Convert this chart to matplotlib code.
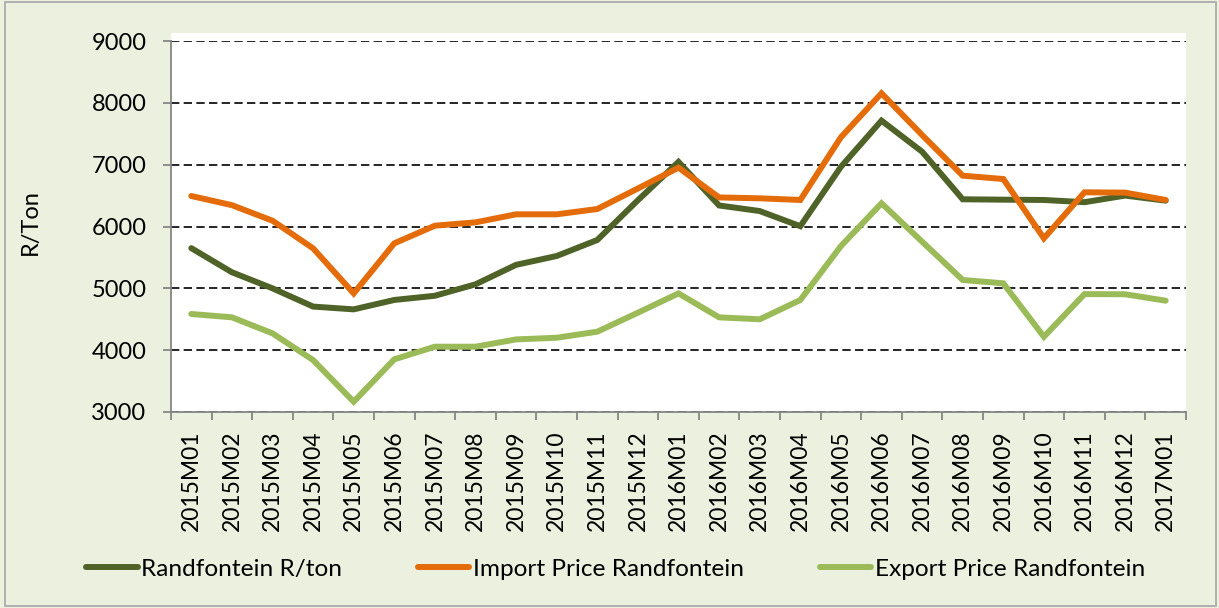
import matplotlib
matplotlib.use("Agg")
import matplotlib.pyplot as plt
from matplotlib.patches import Rectangle
from matplotlib.ticker import FixedLocator

categories = ["2015M01", "2015M02", "2015M03", "2015M04", "2015M05", "2015M06",
              "2015M07", "2015M08", "2015M09", "2015M10", "2015M11", "2015M12",
              "2016M01", "2016M02", "2016M03", "2016M04", "2016M05", "2016M06",
              "2016M07", "2016M08", "2016M09", "2016M10", "2016M11", "2016M12",
              "2017M01"]

randfontein = [5650, 5260, 5000, 4705, 4660, 4812, 4880, 5065, 5380, 5523,
               5782, 6425, 7045, 6340, 6250, 6005, 6965, 7712, 7210, 6440,
               6434, 6429, 6393, 6500, 6418]
import_price = [6493, 6345, 6094, 5647, 4918, 5728, 6013, 6067, 6197, 6197,
                6283, 6615, 6952, 6470, 6456, 6429, 7443, 8154, 7480, 6822,
                6768, 5809, 6553, 6548, 6429]
export_price = [4585, 4531, 4272, 3840, 3166, 3852, 4056, 4056, 4174, 4201,
                4299, 4606, 4918, 4531, 4499, 4811, 5683, 6375, 5755, 5135,
                5081, 4217, 4907, 4904, 4800]

series_names = ["Randfontein R/ton", "Import Price Randfontein", "Export Price Randfontein"]
series_colors = ["#4F6228", "#E46C0A", "#9BBB59"]
y_ticks = [3000, 4000, 5000, 6000, 7000, 8000, 9000]

W, H = 1219, 608
FONT = "Lato"
FS = 17
LFS = 17.6

fig = plt.figure(figsize=(W / 100, H / 100), dpi=100)
fig.patch.set_facecolor("#EBF1DE")

# outer border
fig.patches.append(Rectangle((5 / W, 1 - 606 / H), (1216 - 5) / W, (606 - 2) / H,
                             transform=fig.transFigure, fill=False,
                             edgecolor="#A6A6A6", linewidth=1.2, zorder=-2))
# white plot area extension above the top gridline
fig.patches.append(Rectangle((171 / W, 1 - 42 / H), (1186 - 171) / W, 9 / H,
                             transform=fig.transFigure, facecolor="white",
                             edgecolor="none", zorder=-1))

ax = fig.add_axes([171 / W, 1 - 412 / H, (1186 - 171) / W, (412 - 41) / H])
ax.set_facecolor("white")

x = list(range(len(categories)))
handles = []
for vals, name, col in zip([randfontein, import_price, export_price], series_names, series_colors):
    h, = ax.plot(x, vals, color=col, linewidth=4.3, solid_capstyle="round",
                 solid_joinstyle="miter", label=name, zorder=3)
    handles.append(h)

ax.set_xlim(-0.5, len(categories) - 0.5)
ax.set_ylim(3000, 9000)
ax.set_yticks(y_ticks)
ax.set_yticklabels([str(v) for v in y_ticks], fontfamily=FONT, fontsize=FS)
ax.yaxis.grid(True, color="black", linestyle=(0, (5, 2.6)), linewidth=1.2)
ax.set_axisbelow(True)

ax.set_xticks(x)
ax.set_xticklabels(categories, rotation=90, fontfamily=FONT, fontsize=16.5)
ax.xaxis.set_minor_locator(FixedLocator([i - 0.5 for i in range(len(categories) + 1)]))
ax.tick_params(axis="x", which="major", length=0, pad=13)
ax.tick_params(axis="x", which="minor", length=5.8, width=1.3, color="#868686", direction="out")
ax.tick_params(axis="y", which="major", length=5.8, width=1.3, color="#868686", pad=12)

for s in ["top", "right"]:
    ax.spines[s].set_visible(False)
for s in ["left", "bottom"]:
    ax.spines[s].set_color("#868686")
    ax.spines[s].set_linewidth(1.3)

fig.text(30 / W, 1 - 222 / H, "R/Ton", rotation=90, ha="center", va="center",
         fontfamily=FONT, fontsize=FS)

fig.legend(handles=handles, labels=series_names, loc="center left",
           bbox_to_anchor=(74 / W, 1 - 569 / H), ncol=3, frameon=False,
           borderpad=0, handlelength=2.1, handletextpad=0.15, columnspacing=3.1,
           prop={"family": FONT, "size": LFS})

fig.savefig("out.png", dpi=100, facecolor=fig.get_facecolor())
